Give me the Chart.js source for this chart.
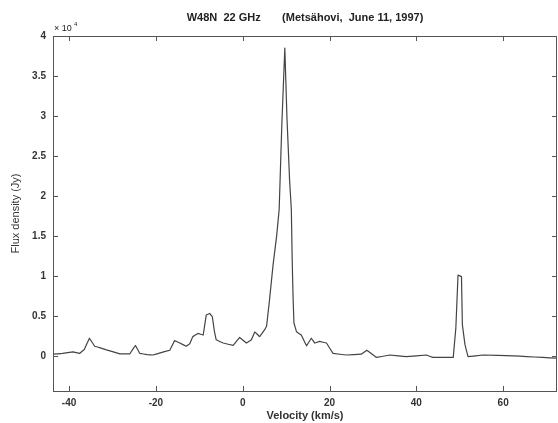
<!DOCTYPE html>
<html>
<head>
<meta charset="utf-8">
<script src="https://cdn.jsdelivr.net/npm/chart.js@4"></script>
<style>
  html, body { margin: 0; padding: 0; background: #fff; }
  #wrap { width: 558px; height: 423px; }
</style>
</head>
<body>
<div id="wrap"><canvas id="spec"></canvas></div>
<script>
// W48N water maser spectrum, flux in units of 1e4 Jy
const velocity = [-43.7, -41.5, -39.1, -37.6, -36.5, -35.3, -34.1, -32.8, -31.4, -29.8,
  -28.3, -26.0, -24.7, -23.7, -22.0, -20.7, -18.8, -16.8, -15.7, -14.5,
  -13.0, -12.2, -11.5, -10.3, -9.1, -8.4, -7.6, -7.0, -6.5, -6.1,
  -4.5, -2.2, -0.7, 0.85, 2.0, 2.8, 3.9, 5.1, 5.5, 6.1,
  7.0, 7.8, 8.4, 9.0, 9.7, 10.2, 10.8, 11.2, 11.4, 11.6,
  11.8, 12.4, 13.5, 14.7, 15.8, 16.6, 17.7, 19.3, 20.8, 23.9,
  27.3, 28.6, 30.8, 33.9, 37.7, 42.3, 43.8, 48.5, 49.1, 49.6,
  50.4, 50.6, 51.2, 51.9, 55.4, 62.3, 65.4, 69.1, 72.3];
const flux = [0.02, 0.03, 0.05, 0.03, 0.08, 0.22, 0.12, 0.10, 0.075, 0.05,
  0.025, 0.025, 0.13, 0.03, 0.015, 0.01, 0.04, 0.07, 0.19, 0.16,
  0.12, 0.15, 0.24, 0.28, 0.26, 0.51, 0.53, 0.49, 0.30, 0.20,
  0.16, 0.13, 0.23, 0.16, 0.20, 0.30, 0.24, 0.33, 0.37, 0.66,
  1.14, 1.49, 1.83, 2.87, 3.85, 2.97, 2.2, 1.83, 1.2, 0.74,
  0.41, 0.30, 0.26, 0.125, 0.22, 0.16, 0.18, 0.16, 0.03, 0.01,
  0.02, 0.07, -0.02, 0.01, -0.01, 0.01, -0.02, -0.02, 0.35, 1.01,
  0.99, 0.39, 0.14, -0.01, 0.01, 0.0, -0.01, -0.02, -0.03];
const xTicks = [-40, -20, 0, 20, 40, 60];
const yTicks = [0, 0.5, 1, 1.5, 2, 2.5, 3, 3.5, 4];
const yTickLabels = ['0', '0.5', '1', '1.5', '2', '2.5', '3', '3.5', '4'];

const points = velocity.map((v, i) => ({ x: v, y: flux[i] }));
const FONT = '"Liberation Sans", Arial, sans-serif';

// matlab-ish box, inward ticks, title and exponent label
const boxPlugin = {
  id: 'box',
  afterDraw(chart) {
    const { ctx, chartArea: a, scales } = chart;
    ctx.save();
    ctx.strokeStyle = '#555';
    ctx.lineWidth = 1;
    ctx.strokeRect(a.left + 0.5, a.top + 0.5, a.right - a.left - 1, a.bottom - a.top);
    ctx.beginPath();
    xTicks.forEach(t => {
      const px = Math.round(scales.x.getPixelForValue(t)) + 0.5;
      ctx.moveTo(px, a.bottom); ctx.lineTo(px, a.bottom - 5);
      ctx.moveTo(px, a.top); ctx.lineTo(px, a.top + 5);
    });
    yTicks.forEach(t => {
      const py = Math.round(scales.y.getPixelForValue(t)) + 0.5;
      ctx.moveTo(a.left, py); ctx.lineTo(a.left + 5, py);
      ctx.moveTo(a.right, py); ctx.lineTo(a.right - 5, py);
    });
    ctx.stroke();

    ctx.fillStyle = '#222';
    ctx.font = 'bold 11px ' + FONT;
    ctx.textAlign = 'center';
    ctx.textBaseline = 'middle';
    ctx.fillText('W48N  22 GHz       (Metsähovi,  June 11, 1997)', (a.left + a.right) / 2, 18);

    ctx.font = '9px ' + FONT;
    ctx.textAlign = 'left';
    ctx.fillText('× 10', a.left + 1, 29);
    ctx.font = '6px ' + FONT;
    ctx.fillText('4', a.left + 21, 24);
    ctx.restore();
  }
};

new Chart(document.getElementById('spec'), {
  type: 'line',
  data: {
    datasets: [{
      data: points,
      borderColor: '#444',
      borderWidth: 1.2,
      borderJoinStyle: 'round',
      pointRadius: 0,
      tension: 0.0001, // tiny tension avoids the fast-path min/max drawing
      fill: false
    }]
  },
  options: {
    responsive: true,
    maintainAspectRatio: false,
    animation: false,
    layout: { padding: { top: 36, right: 1, left: 0, bottom: 0 } },
    plugins: {
      legend: { display: false },
      tooltip: { enabled: false }
    },
    scales: {
      x: {
        type: 'linear',
        min: -43.7,
        max: 72.4,
        afterBuildTicks: s => { s.ticks = xTicks.map(v => ({ value: v })); },
        afterFit: s => { s.height = 32; },
        grid: { display: false, drawTicks: false },
        border: { display: false },
        ticks: {
          color: '#333',
          font: { family: FONT, size: 10, weight: 'bold' },
          padding: 6,
          maxRotation: 0
        },
        title: {
          display: true,
          text: 'Velocity (km/s)',
          color: '#333',
          font: { family: FONT, size: 11, weight: 'bold' },
          padding: { top: 0, bottom: 0 }
        }
      },
      y: {
        type: 'linear',
        min: -0.44,
        max: 4,
        afterBuildTicks: s => { s.ticks = yTicks.map(v => ({ value: v })); },
        afterFit: s => { s.width = 53; },
        grid: { display: false, drawTicks: false },
        border: { display: false },
        ticks: {
          color: '#333',
          font: { family: FONT, size: 10, weight: 'bold' },
          padding: 7,
          callback: v => yTickLabels[yTicks.indexOf(v)] ?? ''
        },
        title: {
          display: true,
          text: 'Flux density (Jy)',
          color: '#333',
          font: { family: FONT, size: 11 },
          padding: { top: 9, bottom: 0 }
        }
      }
    }
  },
  plugins: [boxPlugin]
});
</script>
</body>
</html>
